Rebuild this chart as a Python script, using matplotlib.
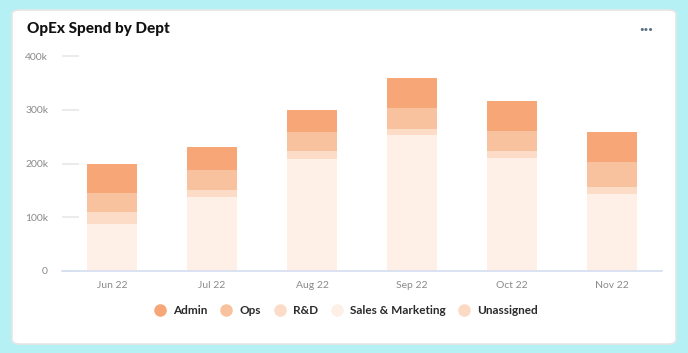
import matplotlib.pyplot as plt
from matplotlib.patches import FancyBboxPatch
from matplotlib.lines import Line2D
import numpy as np

plt.rcParams['font.family'] = ['Lato', 'DejaVu Sans']

# data (in thousands)
months = ["Jun 22", "Jul 22", "Aug 22", "Sep 22", "Oct 22", "Nov 22"]
sales_marketing = [88, 137, 208, 253, 211, 143]
rnd = [22, 13, 16, 12, 12, 14]
ops = [35, 37, 35, 39, 37, 46]
admin = [55, 43, 41, 56, 56, 55]
unassigned = [0, 0, 0, 0, 0, 0]

# stacked bottom -> top
series = [
    ("Sales & Marketing", sales_marketing, "#fef0e6"),
    ("Unassigned", unassigned, "#fcd9c2"),
    ("R&D", rnd, "#fcdcc6"),
    ("Ops", ops, "#f9c29f"),
    ("Admin", admin, "#f7a677"),
]
legend_order = ["Admin", "Ops", "R&D", "Sales & Marketing", "Unassigned"]

fig = plt.figure(figsize=(6.88, 3.53), dpi=100)
fig.patch.set_facecolor("#b5f0f5")

# white card
card = FancyBboxPatch((12 / 688, 9 / 353), 664 / 688, 334 / 353,
                      boxstyle="round,pad=0,rounding_size=0.012",
                      transform=fig.transFigure, facecolor="white",
                      edgecolor="#e6e6e6", linewidth=1.2, zorder=-1)
fig.patches.append(card)

ax = fig.add_axes([62 / 688, 1 - 271 / 353, 600 / 688, 215 / 353])
ax.set_facecolor("none")

x = np.arange(len(months))
bottom = np.zeros(len(months))
handles = {}
for name, vals, color in series:
    vals = np.array(vals) * 1000
    ax.bar(x, vals, 0.5, bottom=bottom, color=color, linewidth=0, zorder=2)
    bottom += vals
    handles[name] = Line2D([], [], marker="o", linestyle="none",
                           markersize=8, markerfacecolor=color,
                           markeredgecolor=color)

ax.set_xlim(-0.5, len(months) - 0.5)
ax.set_ylim(0, 400000)
ax.set_xticks(x)
ax.set_xticklabels(months)
ax.set_yticks([0, 100000, 200000, 300000, 400000])
ax.set_yticklabels(["0", "100k", "200k", "300k", "400k"])

for s in ["top", "right", "left"]:
    ax.spines[s].set_visible(False)
ax.spines["bottom"].set_color("#d4def0")
ax.spines["bottom"].set_linewidth(1.2)
ax.tick_params(axis="y", direction="in", length=12, width=1.5,
               color="#ebebeb", labelsize=7.5, labelcolor="#8a8a8a", pad=10)
ax.tick_params(axis="x", length=0, labelsize=7.5, labelcolor="#8a8a8a", pad=7)

fig.text(27 / 688, 1 - 29 / 353, "OpEx Spend by Dept", fontsize=11,
         fontweight="black", color="#111111", va="center", ha="left")
fig.text(646 / 688, 1 - 30 / 353, "···", fontsize=12, fontweight="bold",
         color="#5a7080", va="center", ha="center")

fig.legend([handles[n] for n in legend_order], legend_order,
           loc="center", bbox_to_anchor=(346 / 688, 1 - 311 / 353),
           ncol=5, frameon=False, handlelength=1.0, handletextpad=0.6,
           columnspacing=1.1,
           prop={"weight": "bold", "size": 8.5}, labelcolor="#2b2b2b")

fig.savefig("out.png", dpi=100, facecolor=fig.get_facecolor())
